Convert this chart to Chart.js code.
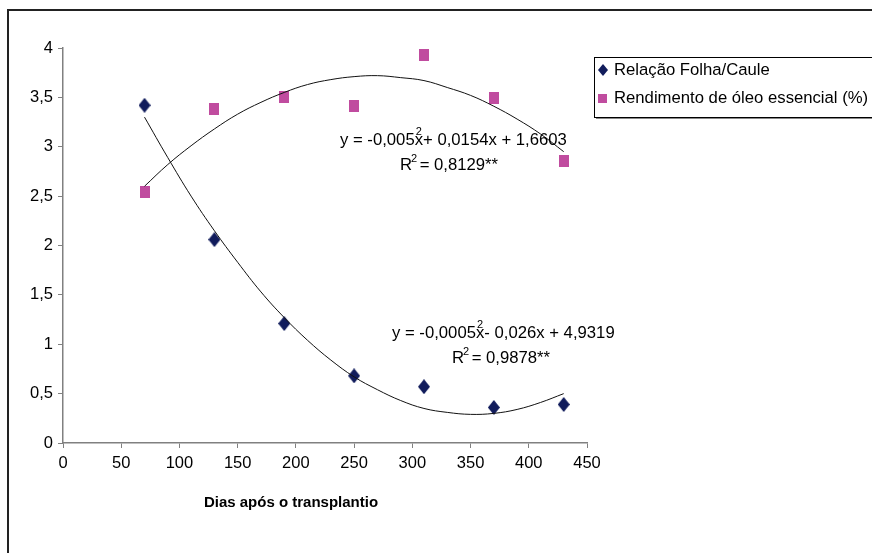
<!DOCTYPE html>
<html>
<head>
<meta charset="utf-8">
<script src="https://cdn.jsdelivr.net/npm/chart.js@4/dist/chart.umd.min.js"></script>
<style>
  html, body { margin: 0; padding: 0; background: #fff; }
  #wrap { width: 872px; height: 553px; position: relative; }
</style>
</head>
<body>
<div id="wrap"><canvas id="chart"></canvas></div>
<script>
// observed values (dias após o transplantio)
const days = [70, 130, 190, 250, 310, 370, 430];
const folhaCaule = [3.42, 2.06, 1.21, 0.68, 0.57, 0.36, 0.39];
const rendimento = [2.54, 3.38, 3.50, 3.41, 3.93, 3.49, 2.86];

// trend curves
const trendDays = [70, 90, 110, 130, 150, 170, 190, 210, 230, 250, 270, 290, 310, 330, 350, 370, 390, 410, 430];
const folhaTrend = [3.30, 2.89, 2.50, 2.15, 1.83, 1.53, 1.27, 1.04, 0.84, 0.67, 0.54, 0.43, 0.35, 0.31, 0.29, 0.30, 0.34, 0.41, 0.50];
const rendTrend = [2.60, 2.82, 3.01, 3.18, 3.33, 3.45, 3.55, 3.63, 3.68, 3.71, 3.72, 3.70, 3.67, 3.60, 3.52, 3.41, 3.28, 3.13, 2.95];

const seriesNames = ["Relação Folha/Caule", "Rendimento de óleo essencial (%)"];
const equations = [
  { pre: "y = -0,005", post: "x+ 0,0154x + 1,6603", r2: " = 0,8129**", x: 340, y: 140, rx: 400, ry: 165 },
  { pre: "y = -0,0005", post: "x- 0,026x + 4,9319", r2: " = 0,9878**", x: 392, y: 333, rx: 452, ry: 358 },
];
const xTitle = "Dias após o transplantio";

const navy = "#111c5c";
const pink = "#c04c9f";
const FONT = "'Liberation Sans', Arial, sans-serif";

Chart.defaults.font.family = FONT;
Chart.defaults.font.size = 16.5;
Chart.defaults.color = "#000";

const pts = (xs, ys) => xs.map((x, i) => ({ x, y: ys[i] }));
const comma = (v) => String(v).replace(".", ",");

// marker images: Excel markers are a bit taller than wide
function marker(kind, w, h, color) {
  const c = document.createElement("canvas");
  c.width = w; c.height = h;
  const g = c.getContext("2d");
  g.fillStyle = color;
  if (kind === "diamond") {
    g.beginPath();
    g.moveTo(w / 2, 0); g.lineTo(w, h / 2); g.lineTo(w / 2, h); g.lineTo(0, h / 2);
    g.closePath(); g.fill();
  } else {
    g.fillRect(0, 0, w, h);
  }
  return c;
}
const diamondImg = marker("diamond", 12, 15, navy);
const squareImg = marker("square", 10, 12, pink);

const extras = {
  id: "extras",
  afterDraw(chart) {
    const ctx = chart.ctx;
    ctx.save();
    // outer frame
    ctx.strokeStyle = "#222";
    ctx.lineWidth = 2;
    ctx.strokeRect(8, 10, 900, 600);

    // legend box
    ctx.fillStyle = "#888";
    ctx.fillRect(596, 117, 300, 2);
    ctx.fillStyle = "#fff";
    ctx.fillRect(594, 57, 300, 60);
    ctx.strokeStyle = "#000";
    ctx.lineWidth = 1;
    ctx.strokeRect(594.5, 57.5, 300, 60);

    ctx.fillStyle = navy;
    ctx.beginPath();
    ctx.moveTo(603, 64); ctx.lineTo(608, 70); ctx.lineTo(603, 76); ctx.lineTo(598, 70);
    ctx.closePath(); ctx.fill();
    ctx.fillStyle = pink;
    ctx.fillRect(598, 94, 9, 9);

    ctx.fillStyle = "#000";
    ctx.font = "16.7px " + FONT;
    ctx.textBaseline = "middle";
    ctx.fillText(seriesNames[0], 614, 70);
    ctx.fillText(seriesNames[1], 614, 98);

    // trendline equations
    for (const eq of equations) {
      ctx.font = "16.7px " + FONT;
      ctx.fillText(eq.pre + eq.post, eq.x, eq.y);
      const w = ctx.measureText(eq.pre).width;
      const rw = ctx.measureText("R").width;
      ctx.fillText("R", eq.rx, eq.ry);
      ctx.fillText(eq.r2, eq.rx + rw + 3, eq.ry);
      ctx.font = "11px " + FONT;
      ctx.fillText("2", eq.x + w + 1, eq.y - 8);
      ctx.fillText("2", eq.rx + rw - 1, eq.ry - 6);
    }

    // axis title
    ctx.font = "bold 15px " + FONT;
    ctx.textAlign = "center";
    ctx.fillText(xTitle, 291, 503);
    ctx.restore();
  },
};

const trendStyle = {
  type: "line",
  showLine: true,
  borderColor: "#111",
  borderWidth: 1,
  pointRadius: 0,
  tension: 0.4,
  fill: false,
};

new Chart(document.getElementById("chart"), {
  type: "scatter",
  data: {
    datasets: [
      { ...trendStyle, label: "trend1", data: pts(trendDays, folhaTrend) },
      { ...trendStyle, label: "trend2", data: pts(trendDays, rendTrend) },
      {
        label: seriesNames[0],
        data: pts(days, folhaCaule),
        pointStyle: diamondImg,
        pointRadius: 7,
        backgroundColor: navy,
      },
      {
        label: seriesNames[1],
        data: pts(days, rendimento),
        pointStyle: squareImg,
        pointRadius: 7,
        backgroundColor: pink,
      },
    ],
  },
  options: {
    responsive: true,
    maintainAspectRatio: false,
    animation: false,
    layout: { padding: { left: 0, top: 48, right: 285, bottom: 80 } },
    plugins: { legend: { display: false }, tooltip: { enabled: false } },
    scales: {
      x: {
        type: "linear",
        min: 0,
        max: 450,
        afterFit: (s) => { s.height = 30; },
        border: { color: "#808080", width: 1.5 },
        grid: { drawOnChartArea: false, drawTicks: true, tickLength: 5, color: "#808080" },
        ticks: { stepSize: 50, padding: 6, callback: comma },
      },
      y: {
        min: 0,
        max: 4,
        afterFit: (s) => { s.width = 63; },
        border: { color: "#808080", width: 1.5 },
        grid: { drawOnChartArea: false, drawTicks: true, tickLength: 5, color: "#808080" },
        ticks: { stepSize: 0.5, padding: 5, callback: comma },
      },
    },
  },
  plugins: [extras],
});
</script>
</body>
</html>
